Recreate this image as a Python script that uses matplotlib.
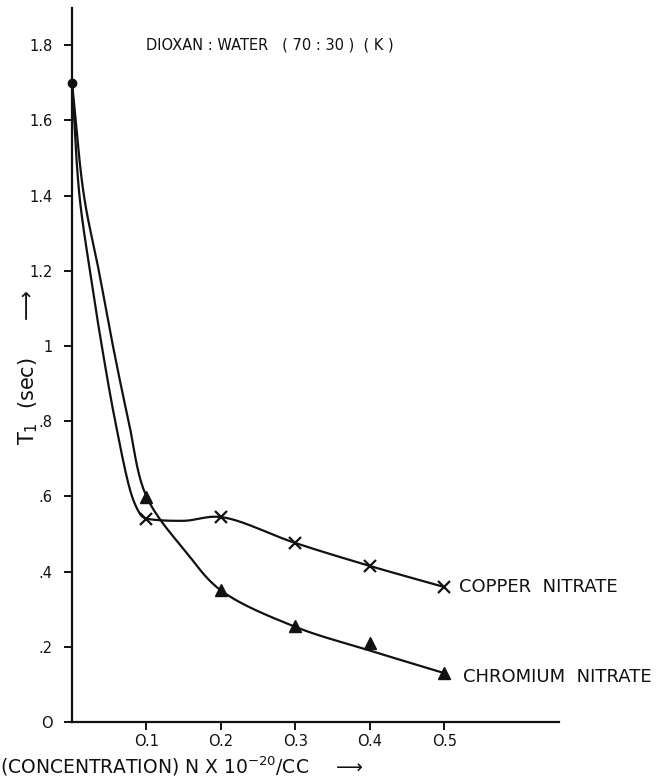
import numpy as np
import matplotlib
matplotlib.use("Agg")
import matplotlib.pyplot as plt

# Measured relaxation times T1 (sec) against ion concentration
conc = [0.1, 0.2, 0.3, 0.4, 0.5]
copper_t1 = [0.54, 0.545, 0.476, 0.415, 0.359]
chromium_t1 = [0.598, 0.35, 0.255, 0.21, 0.13]
pure_solvent = (0.0, 1.70)

# Hand-drawn trend curves through the measurements
copper_curve_x = [0.0, 0.010, 0.024, 0.040, 0.058, 0.079, 0.088, 0.094,
                  0.100, 0.150, 0.200, 0.300, 0.400, 0.500]
copper_curve_y = [1.70, 1.40, 1.20, 1.00, 0.80, 0.61, 0.565, 0.547,
                  0.541, 0.535, 0.545, 0.476, 0.415, 0.359]
chromium_curve_x = [0.0, 0.016, 0.036, 0.055, 0.076, 0.100, 0.154,
                    0.200, 0.300, 0.400, 0.500]
chromium_curve_y = [1.70, 1.40, 1.20, 1.00, 0.80, 0.60, 0.45,
                    0.35, 0.253, 0.19, 0.13]

y_ticks = [0, 0.2, 0.4, 0.6, 0.8, 1.0, 1.2, 1.4, 1.6, 1.8]
y_tick_labels = ["O", ".2", ".4", ".6", ".8", "1", "1.2", "1.4", "1.6", "1.8"]
x_ticks = [0.1, 0.2, 0.3, 0.4, 0.5]
x_tick_labels = ["O.1", "O.2", "O.3", "O.4", "O.5"]


def catmull_rom(xs, ys, n=30, alpha=0.5, sx=745.0, sy=376.0):
    """Centripetal Catmull-Rom spline through the given nodes."""
    p = np.column_stack([xs, ys]).astype(float)
    p[:, 0] *= sx
    p[:, 1] *= sy
    p = np.vstack([2 * p[0] - p[1], p, 2 * p[-1] - p[-2]])
    out = []
    for i in range(1, len(p) - 2):
        p0, p1, p2, p3 = p[i - 1], p[i], p[i + 1], p[i + 2]
        t0 = 0.0
        t1 = t0 + np.linalg.norm(p1 - p0) ** alpha
        t2 = t1 + np.linalg.norm(p2 - p1) ** alpha
        t3 = t2 + np.linalg.norm(p3 - p2) ** alpha
        t = np.linspace(t1, t2, n)[:, None]
        a1 = (t1 - t) / (t1 - t0) * p0 + (t - t0) / (t1 - t0) * p1
        a2 = (t2 - t) / (t2 - t1) * p1 + (t - t1) / (t2 - t1) * p2
        a3 = (t3 - t) / (t3 - t2) * p2 + (t - t2) / (t3 - t2) * p3
        b1 = (t2 - t) / (t2 - t0) * a1 + (t - t0) / (t2 - t0) * a2
        b2 = (t3 - t) / (t3 - t1) * a2 + (t - t1) / (t3 - t1) * a3
        c = (t2 - t) / (t2 - t1) * b1 + (t - t1) / (t2 - t1) * b2
        out.append(c if i == 1 else c[1:])
    c = np.vstack(out)
    return c[:, 0] / sx, c[:, 1] / sy


plt.rcParams["font.family"] = ["DejaVu Sans"]
fig = plt.figure(figsize=(6.65, 7.79), dpi=100)
ax = fig.add_axes([0.1083, 0.0732, 0.732, 0.9166])

ink = "#111111"
lw = 1.6

cx, cy = catmull_rom(copper_curve_x, copper_curve_y)
ax.plot(cx, cy, color=ink, lw=lw, solid_capstyle="round")
rx, ry = catmull_rom(chromium_curve_x, chromium_curve_y)
ax.plot(rx, ry, color=ink, lw=lw, solid_capstyle="round")

ax.plot(conc, copper_t1, linestyle="none", marker="x", ms=8, mew=1.6, color=ink)
ax.plot(conc, chromium_t1, linestyle="none", marker="^", ms=9, color=ink)
ax.plot([pure_solvent[0]], [pure_solvent[1]], linestyle="none", marker="o",
        ms=6, color=ink, clip_on=False)

ax.set_xlim(0, 0.654)
ax.set_ylim(0, 1.899)
for s in ("top", "right"):
    ax.spines[s].set_visible(False)
for s in ("left", "bottom"):
    ax.spines[s].set_linewidth(1.6)
    ax.spines[s].set_color(ink)

ax.set_yticks(y_ticks)
ax.set_yticklabels(y_tick_labels)
ax.set_xticks(x_ticks)
ax.set_xticklabels(x_tick_labels)
ax.tick_params(axis="both", direction="out", length=6, width=1.4, color=ink,
               labelsize=10.5, labelcolor=ink)
ax.tick_params(axis="y", pad=8)
ax.tick_params(axis="x", pad=3)

ax.text(0.1, 1.8, "DIOXAN : WATER   ( 70 : 30 )  ( K )", fontsize=10.5,
        color=ink, va="center", ha="left")

ax.text(0.52, copper_t1[-1], "COPPER  NITRATE", fontsize=13, color=ink,
        va="center", ha="left", clip_on=False)
ax.text(0.525, chromium_t1[-1] - 0.01, "CHROMIUM  NITRATE", fontsize=13,
        color=ink, va="center", ha="left", clip_on=False)

fig.text(0.042, 1 - 445 / 779, r"T$_{\mathregular{1}}$  (sec)     $\longrightarrow$",
         rotation=90, fontsize=15, color=ink, ha="center", va="bottom")
fig.text(0.0, 1 - 778 / 779,
         r"(CONCENTRATION) N X 10$^{\mathregular{-20}}$/CC    $\longrightarrow$",
         fontsize=13.5, color=ink, ha="left", va="bottom")

fig.savefig("out.png", dpi=100, facecolor="white")
